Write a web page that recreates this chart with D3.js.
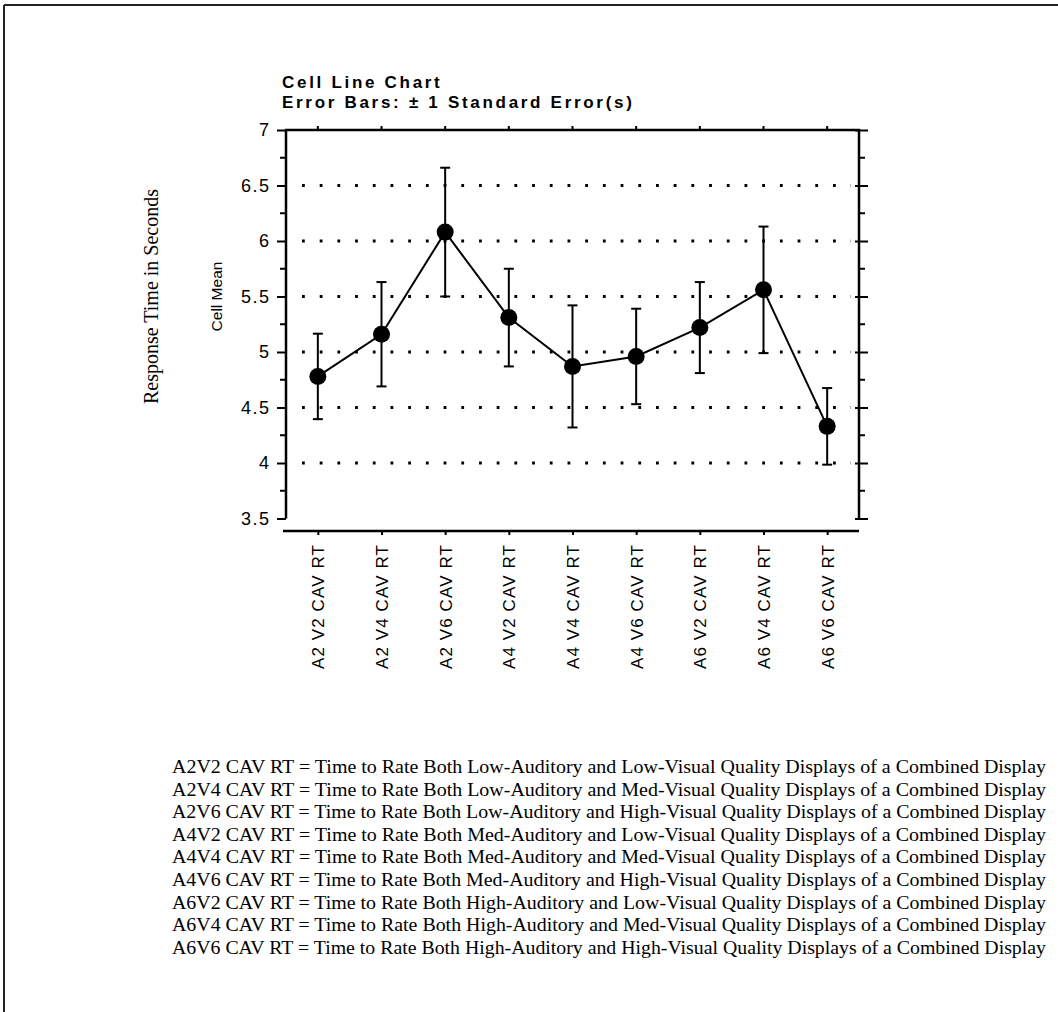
<!DOCTYPE html>
<html>
<head>
<meta charset="utf-8">
<script src="https://cdn.jsdelivr.net/npm/d3@7"></script>
<style>
  body { margin: 0; background: #fff; }
  svg { display: block; }
</style>
</head>
<body>
<div id="chart"></div>
<script>
(function() {

  // categories on x axis
  let cells = ["A2 V2 CAV RT", "A2 V4 CAV RT", "A2 V6 CAV RT",
               "A4 V2 CAV RT", "A4 V4 CAV RT", "A4 V6 CAV RT",
               "A6 V2 CAV RT", "A6 V4 CAV RT", "A6 V6 CAV RT"];
  // cell means and standard errors
  let means = [4.78, 5.16, 6.08, 5.31, 4.87, 4.96, 5.22, 5.56, 4.33];
  let stdErrs = [0.385, 0.47, 0.58, 0.44, 0.55, 0.43, 0.41, 0.57, 0.345];
  // y axis ticks
  let yTicks = [3.5, 4, 4.5, 5, 5.5, 6, 6.5, 7];
  let yMinor = [3.75, 4.25, 4.75, 5.25, 5.75, 6.25, 6.75];
  let gridValues = [4, 4.5, 5, 5.5, 6, 6.5];

  let titleLines = ["Cell Line Chart", "Error Bars: \u00b1 1 Standard Error(s)"];
  let legendLines = [
    "A2V2 CAV RT = Time to Rate Both Low-Auditory and Low-Visual Quality Displays of a Combined Display",
    "A2V4 CAV RT = Time to Rate Both Low-Auditory and Med-Visual Quality Displays of a Combined Display",
    "A2V6 CAV RT = Time to Rate Both Low-Auditory and High-Visual Quality Displays of a Combined Display",
    "A4V2 CAV RT = Time to Rate Both Med-Auditory and Low-Visual Quality Displays of a Combined Display",
    "A4V4 CAV RT = Time to Rate Both Med-Auditory and Med-Visual Quality Displays of a Combined Display",
    "A4V6 CAV RT = Time to Rate Both Med-Auditory and High-Visual Quality Displays of a Combined Display",
    "A6V2 CAV RT = Time to Rate Both High-Auditory and Low-Visual Quality Displays of a Combined Display",
    "A6V4 CAV RT = Time to Rate Both High-Auditory and Med-Visual Quality Displays of a Combined Display",
    "A6V6 CAV RT = Time to Rate Both High-Auditory and High-Visual Quality Displays of a Combined Display"
  ];

  let width = 1058, height = 1012;
  let sans = "'Liberation Sans', Arial, Helvetica, sans-serif";
  let serif = "'Liberation Serif', 'Times New Roman', serif";

  // plot frame
  let left = 286, right = 859, top = 130, bottom = 518.5, xAxisY = 531;

  let svg = d3.select("#chart")
    .append("svg")
      .attr("width", width)
      .attr("height", height);

  // page border (top + left edge of the scanned page)
  svg.append("line")
    .attr("x1", 4).attr("x2", width).attr("y1", 5).attr("y2", 5)
    .attr("stroke", "#222").attr("stroke-width", 2);
  svg.append("line")
    .attr("x1", 4).attr("x2", 4).attr("y1", 5).attr("y2", height)
    .attr("stroke", "#222").attr("stroke-width", 2);

  let xScale = d3.scalePoint()
    .domain(cells)
    .range([left, right])
    .padding(0.5);

  let yScale = d3.scaleLinear()
    .domain([3.5, 7])
    .range([bottom, top]);

  // title
  svg.selectAll(".title")
    .data(titleLines)
    .enter()
    .append("text")
      .attr("class", "title")
      .attr("x", 282)
      .attr("y", (d, i) => 88 + i * 20)
      .style("font-family", sans)
      .style("font-weight", "bold")
      .style("font-size", "17px")
      .style("letter-spacing", "2.7px")
      .text(d => d);

  // dotted grid lines
  svg.selectAll(".grid")
    .data(gridValues)
    .enter()
    .append("line")
      .attr("class", "grid")
      .attr("x1", left + 16).attr("x2", right - 8)
      .attr("y1", d => yScale(d)).attr("y2", d => yScale(d))
      .attr("stroke", "#000")
      .attr("stroke-width", 2.8)
      .attr("stroke-dasharray", "2.8,14.9");

  // left axis with outside ticks
  let yAxisLeft = d3.axisLeft(yScale)
    .tickValues(yTicks)
    .tickSize(9)
    .tickPadding(8)
    .tickFormat(d3.format("~g"));
  let gLeft = svg.append("g")
    .attr("transform", "translate(" + left + ",0)")
    .call(yAxisLeft);
  gLeft.select(".domain").remove();
  gLeft.selectAll(".tick line").attr("stroke-width", 2);
  gLeft.selectAll(".tick text")
    .style("font-family", sans)
    .style("font-size", "18px")
    .style("letter-spacing", "1.5px")
    .attr("dx", "1.5px")
    .attr("fill", "#000");
  gLeft.selectAll(".minor")
    .data(yMinor)
    .enter()
    .append("line")
      .attr("x1", -6).attr("x2", 0)
      .attr("y1", d => yScale(d)).attr("y2", d => yScale(d))
      .attr("stroke", "#000").attr("stroke-width", 2);

  // right axis
  let yAxisRight = d3.axisRight(yScale)
    .tickValues(yTicks)
    .tickSize(9)
    .tickFormat("");
  let gRight = svg.append("g")
    .attr("transform", "translate(" + right + ",0)")
    .call(yAxisRight);
  gRight.select(".domain").remove();
  gRight.selectAll(".tick line").attr("x1", -4).attr("stroke-width", 2);
  gRight.selectAll(".minor")
    .data(yMinor)
    .enter()
    .append("line")
      .attr("x1", 0).attr("x2", 6)
      .attr("y1", d => yScale(d)).attr("y2", d => yScale(d))
      .attr("stroke", "#000").attr("stroke-width", 2);

  // frame: left, right, top
  svg.append("path")
    .attr("d", "M" + left + "," + bottom + "V" + top + "H" + right + "V" + bottom)
    .attr("fill", "none")
    .attr("stroke", "#000")
    .attr("stroke-width", 2.5);

  // top ticks
  svg.selectAll(".topTick")
    .data(cells)
    .enter()
    .append("line")
      .attr("x1", d => xScale(d)).attr("x2", d => xScale(d))
      .attr("y1", top - 4).attr("y2", top)
      .attr("stroke", "#000").attr("stroke-width", 2);

  // bottom axis (set apart below the frame)
  let xAxis = d3.axisBottom(xScale)
    .tickSize(4)
    .tickPadding(8)
    .tickSizeOuter(0);
  let gBottom = svg.append("g")
    .attr("transform", "translate(0," + xAxisY + ")")
    .call(xAxis);
  gBottom.select(".domain")
    .attr("d", "M" + (left - 3) + ",0H" + right)
    .attr("stroke-width", 2.5);
  gBottom.selectAll(".tick line").attr("stroke-width", 2);
  gBottom.selectAll(".tick text")
    .attr("transform", "rotate(-90)")
    .attr("text-anchor", "end")
    .attr("x", -13)
    .attr("y", 0)
    .attr("dy", "0.35em")
    .attr("fill", "#000")
    .style("font-family", sans)
    .style("font-size", "17px")
    .style("letter-spacing", "1.1px");

  // axis titles
  svg.append("text")
    .attr("transform", "translate(222, " + yScale(5.5) + ") rotate(-90)")
    .attr("text-anchor", "middle")
    .style("font-family", sans)
    .style("font-size", "15.5px")
    .text("Cell Mean");

  svg.append("text")
    .attr("transform", "translate(158, " + yScale(5.5) + ") rotate(-90)")
    .attr("text-anchor", "middle")
    .style("font-family", serif)
    .style("font-size", "20px")
    .text("Response Time in Seconds");

  let rows = cells.map((c, i) => ({ cell: c, mean: means[i], se: stdErrs[i] }));

  // error bars
  let bars = svg.selectAll(".err")
    .data(rows)
    .enter()
    .append("g")
      .attr("class", "err")
      .attr("stroke", "#000")
      .attr("stroke-width", 2);
  bars.append("line")
    .attr("x1", d => xScale(d.cell)).attr("x2", d => xScale(d.cell))
    .attr("y1", d => yScale(d.mean + d.se)).attr("y2", d => yScale(d.mean - d.se));
  bars.append("line")
    .attr("x1", d => xScale(d.cell) - 5).attr("x2", d => xScale(d.cell) + 5)
    .attr("y1", d => yScale(d.mean + d.se)).attr("y2", d => yScale(d.mean + d.se));
  bars.append("line")
    .attr("x1", d => xScale(d.cell) - 5).attr("x2", d => xScale(d.cell) + 5)
    .attr("y1", d => yScale(d.mean - d.se)).attr("y2", d => yScale(d.mean - d.se));

  // mean line
  let meanLine = d3.line()
    .x(d => xScale(d.cell))
    .y(d => yScale(d.mean));
  svg.append("path")
    .attr("d", meanLine(rows))
    .attr("fill", "none")
    .attr("stroke", "#000")
    .attr("stroke-width", 2);

  svg.selectAll(".dot")
    .data(rows)
    .enter()
    .append("circle")
      .attr("class", "dot")
      .attr("cx", d => xScale(d.cell))
      .attr("cy", d => yScale(d.mean))
      .attr("r", 8.5)
      .attr("fill", "#000");

  // legend text
  svg.selectAll(".legend")
    .data(legendLines)
    .enter()
    .append("text")
      .attr("class", "legend")
      .attr("x", 172)
      .attr("y", (d, i) => 773 + i * 22.6)
      .attr("textLength", 874)
      .attr("lengthAdjust", "spacingAndGlyphs")
      .style("font-family", serif)
      .style("font-size", "18.5px")
      .text(d => d);

})();
</script>
</body>
</html>
